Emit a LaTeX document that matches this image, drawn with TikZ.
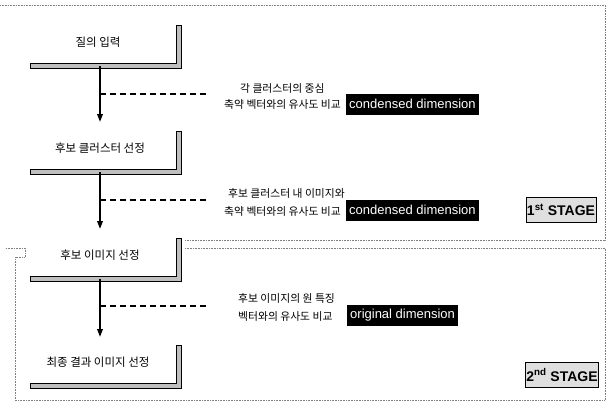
\documentclass[tikz,border=0pt]{standalone}
\usepackage{fontspec}
\setmainfont{Liberation Sans}
\newfontfamily\kr{Noto Sans CJK KR}
\usetikzlibrary{arrows.meta}
\begin{document}
\begin{tikzpicture}[x=1pt,y=-1pt,
  bracketbar/.style={draw=black, line width=0.8pt, fill=gray!50},
  flow/.style={line width=1.8pt, -{Triangle[length=8pt,width=5.5pt]}},
  cmp/.style={line width=2.4pt, dash pattern=on 6pt off 4pt},
  steptxt/.style={font=\kr\fontsize{11.5}{13}\selectfont, inner sep=0pt},
  lbl/.style={font=\kr\fontsize{10.8}{12}\selectfont, inner sep=0pt},
  dimbox/.style={fill=black, text=white, font=\fontsize{13}{15}\selectfont, inner xsep=3pt, inner ysep=0pt, minimum height=21pt},
  stagebox/.style={draw=black, line width=0.8pt, fill=gray!25, font=\bfseries\fontsize{14}{16}\selectfont, minimum width=68pt, minimum height=25pt, inner sep=1pt},
  frame/.style={draw=gray, line width=0.6pt, densely dotted}
]
\useasboundingbox (0,0) rectangle (611,407);

% stage frames
\draw[frame] (0,5) -- (605,5) -- (605,240) -- (185,240);
\draw[frame] (185,248) -- (605,248) -- (605,400) -- (15,400) -- (15,257) -- (25,257) -- (25,248) -- (5,248);

% steps
\node[steptxt] (s1) at (98,42) {질의 입력};
\node[steptxt] (s2) at (100,148) {후보 클러스터 선정};
\node[steptxt] (s3) at (100,255) {후보 이미지 선정};
\node[steptxt] (s4) at (98,362) {최종 결과 이미지 선정};

% L-shaped bars under each step
\draw[bracketbar] (176,25) -- (181,25) -- (181,68) -- (30,68) -- (30,63) -- (176,63) -- cycle;
\draw[bracketbar] (176,131) -- (181,131) -- (181,174) -- (30,174) -- (30,169) -- (176,169) -- cycle;
\draw[bracketbar] (176,238) -- (181,238) -- (181,281) -- (30,281) -- (30,276) -- (176,276) -- cycle;
\draw[bracketbar] (176,345) -- (181,345) -- (181,388) -- (30,388) -- (30,383) -- (176,383) -- cycle;

% flow coordinates
\coordinate (a1) at (100,66);  \coordinate (e1) at (100,122);
\coordinate (a2) at (100,172); \coordinate (e2) at (100,229);
\coordinate (a3) at (100,279); \coordinate (e3) at (100,337);
\coordinate (d1a) at (100,94);  \coordinate (d1b) at (206,94);
\coordinate (d2a) at (100,200); \coordinate (d2b) at (206,200);
\coordinate (d3a) at (100,306); \coordinate (d3b) at (206,306);

\draw[flow] (a1) -- (e1);
\draw[flow] (a2) -- (e2);
\draw[flow] (a3) -- (e3);
\draw[cmp] (d1a) -- (d1b);
\draw[cmp] (d2a) -- (d2b);
\draw[cmp] (d3a) -- (d3b);

% comparison labels
\node[lbl, anchor=west] (l1a) at (240,88) {각 클러스터의 중심};
\node[lbl, anchor=east] (l1b) at (341,104) {축약 벡터와의 유사도 비교};
\node[lbl, anchor=west] (l2a) at (228,193) {후보 클러스터 내 이미지와};
\node[lbl, anchor=east] (l2b) at (341,211) {축약 벡터와의 유사도 비교};
\node[lbl, anchor=west] (l3a) at (238,298) {후보 이미지의 원 특징};
\node[lbl, anchor=west] (l3b) at (238,316) {벡터와의 유사도 비교};

% dimension boxes
\node[dimbox, anchor=west] (c1) at (346,104) {condensed dimension};
\node[dimbox, anchor=west] (c2) at (346,210) {condensed dimension};
\node[dimbox, anchor=west] (o3) at (347,315.5) {original dimension};

% stage labels
\node[stagebox] (st1) at (561,210) {1\textsuperscript{st} STAGE};
\node[stagebox] (st2) at (562,375) {2\textsuperscript{nd} STAGE};
\end{tikzpicture}
\end{document}
